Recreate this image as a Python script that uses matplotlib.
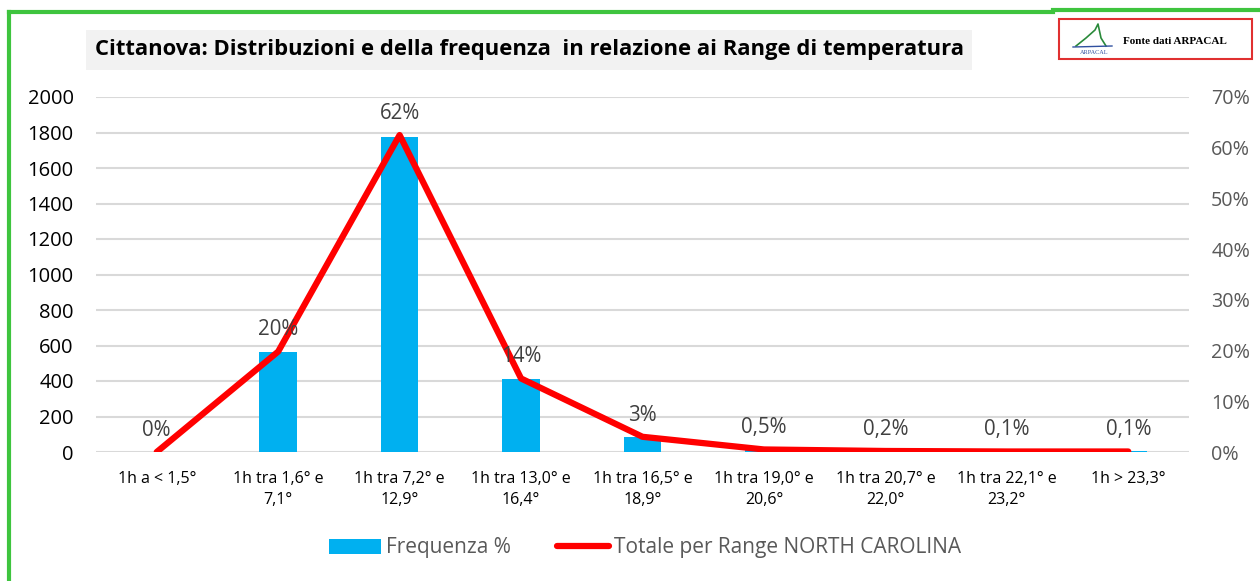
import matplotlib
matplotlib.use("Agg")
import matplotlib.pyplot as plt
from matplotlib.patches import Rectangle
from matplotlib.lines import Line2D
from matplotlib.ticker import FuncFormatter, MultipleLocator

plt.rcParams['font.family'] = ['Open Sans', 'DejaVu Sans']

categories = ["1h a < 1,5°", "1h tra 1,6° e\n7,1°", "1h tra 7,2° e\n12,9°", "1h tra 13,0° e\n16,4°",
              "1h tra 16,5° e\n18,9°", "1h tra 19,0° e\n20,6°", "1h tra 20,7° e\n22,0°",
              "1h tra 22,1° e\n23,2°", "1h > 23,3°"]
freq_counts = [0, 563, 1775, 411, 85, 14, 6, 3, 3]
totale_pct = [0.0, 0.198, 0.625, 0.145, 0.03, 0.005, 0.002, 0.001, 0.001]
pct_labels = ["0%", "20%", "62%", "14%", "3%", "0,5%", "0,2%", "0,1%", "0,1%"]
title = "Cittanova: Distribuzioni e della frequenza  in relazione ai Range di temperatura"

W, H = 1260, 581
fig = plt.figure(figsize=(W/100, H/100), dpi=100)

def fx(px): return px / W
def fy(py): return 1 - py / H

# green frame
green = "#3ec43e"
fig.add_artist(Line2D([fx(9), fx(9)], [fy(12), 0], color=green, lw=3, transform=fig.transFigure))
fig.add_artist(Line2D([fx(9), fx(1053)], [fy(12), fy(12)], color=green, lw=3, transform=fig.transFigure))
fig.add_artist(Line2D([fx(1053), 1.0], [fy(10), fy(10)], color=green, lw=3, transform=fig.transFigure))

# title box
fig.add_artist(Rectangle((fx(86), fy(70)), fx(972) - fx(86), fy(30) - fy(70),
                         facecolor="#f2f2f2", edgecolor="none", transform=fig.transFigure))
fig.text(fx(95), fy(50), title, fontsize=15.8, fontweight="bold", color="black",
         va="center", ha="left")

# logo box
fig.add_artist(Rectangle((fx(1059), fy(59)), fx(1252) - fx(1059), fy(19) - fy(59),
                         facecolor="white", edgecolor="#e03030", lw=1.5, transform=fig.transFigure))
fig.text(fx(1123), fy(42), "Fonte dati ARPACAL", fontsize=8, fontweight="bold",
         family=["Liberation Serif", "DejaVu Serif"], va="center", ha="left")
fig.add_artist(Line2D([fx(1076), fx(1086), fx(1095), fx(1098), fx(1101), fx(1106)],
                      [fy(46), fy(38), fy(30), fy(24), fy(38), fy(46)],
                      color="#2a8a3a", lw=1.2, transform=fig.transFigure))
fig.add_artist(Line2D([fx(1073), fx(1112)], [fy(47), fy(46)], color="#3050a0", lw=1.0, transform=fig.transFigure))
fig.text(fx(1094), fy(53), "ARPACAL", fontsize=4.5, family=["Liberation Serif", "DejaVu Serif"],
         color="#3050a0", va="center", ha="center")

ax = fig.add_axes([fx(96), fy(452), fx(1189) - fx(96), fy(97) - fy(452)])
ax2 = ax.twinx()

x = list(range(len(categories)))
ax.bar(x, freq_counts, width=0.31, color="#00b0f0", zorder=2)
ax.set_xlim(-0.5, len(categories) - 0.5)
ax.set_ylim(0, 2000)
ax.yaxis.set_major_locator(MultipleLocator(200))
ax.grid(axis="y", color="#d9d9d9", lw=1.5, zorder=0)
ax.set_axisbelow(True)
ax.set_xticks(x)
ax.set_xticklabels(categories, fontsize=11.5, color="black", linespacing=1.35)
ax.tick_params(axis="x", length=0, pad=14)
ax.tick_params(axis="y", length=0, labelsize=14.5, colors="black", pad=16)
for s in ax.spines.values():
    s.set_visible(False)

ax2.plot(x, totale_pct, color="#ff0000", lw=4.5, solid_capstyle="round", zorder=3)
ax2.set_ylim(0, 0.7)
ax2.yaxis.set_major_locator(MultipleLocator(0.1))
ax2.yaxis.set_major_formatter(FuncFormatter(lambda v, p: f"{round(v*100):d}%"))
ax2.tick_params(axis="y", length=0, labelsize=14.2, labelcolor="#595959", pad=16)
for s in ax2.spines.values():
    s.set_visible(False)

for xi, yi, lab in zip(x, totale_pct, pct_labels):
    t = ax2.annotate(lab, (xi, yi), xytext=(0, 8), textcoords="offset points",
                     ha="center", va="bottom", fontsize=14.8, color="#404040")
    t.set_zorder(10)

handles = [Rectangle((0, 0), 1, 1, facecolor="#00b0f0"),
           Line2D([0], [0], color="#ff0000", lw=4.5, solid_capstyle="round")]
leg = fig.legend(handles, ["Frequenza %", "Totale per Range NORTH CAROLINA"],
                 loc="center", bbox_to_anchor=(fx(645), fy(548)), ncol=2, frameon=False,
                 fontsize=15, handlelength=2.5, handleheight=0.75, columnspacing=2.2, handletextpad=0.25)
for t in leg.get_texts():
    t.set_color("#595959")

fig.savefig("out.png", dpi=100)
